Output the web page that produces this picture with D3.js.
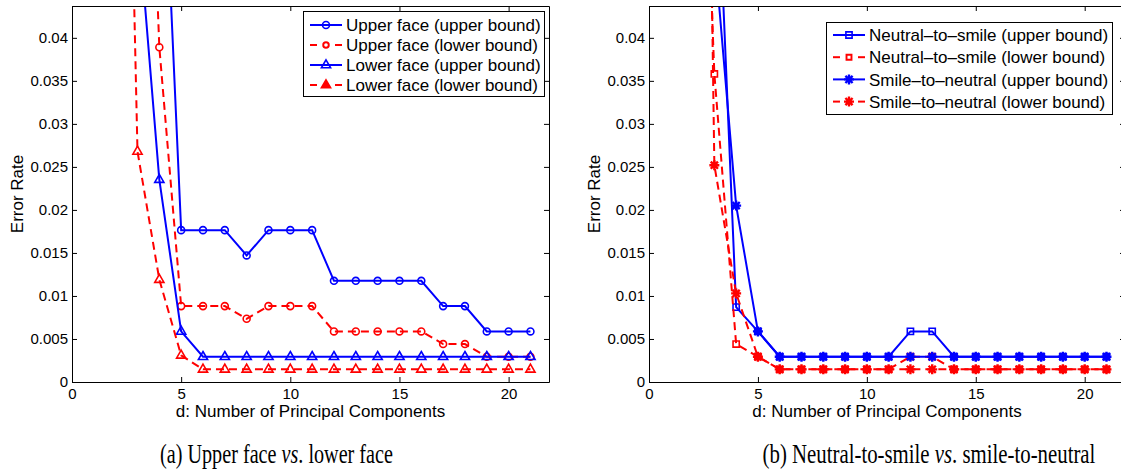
<!DOCTYPE html>
<html><head><meta charset="utf-8">
<script src="https://cdn.jsdelivr.net/npm/d3@7"></script>
<style>body{margin:0;background:#fff;} svg{display:block;}</style>
</head><body>
<svg id="c" width="1121" height="473"></svg>
<script>
// ---------- data ----------
const dims = d3.range(1, 22); // d = 1..21
const xTicks = [0, 5, 10, 15, 20];
const xTickLabels = ["0", "5", "10", "15", "20"];
const yTicks = [0, 0.005, 0.01, 0.015, 0.02, 0.025, 0.03, 0.035, 0.04];
const yTickLabels = ["0", "0.005", "0.01", "0.015", "0.02", "0.025", "0.03", "0.035", "0.04"];
const xMax = 21.85, yMax = 0.0437;

// panel (a)
const upperFaceUB = [null, null, null, 0.0745, 0.01765, 0.01765, 0.01765, 0.01471, 0.01765, 0.01765, 0.01765,
  0.01176, 0.01176, 0.01176, 0.01176, 0.01176, 0.00882, 0.00882, 0.00588, 0.00588, 0.00588];
const upperFaceLB = [null, null, 0.105, 0.0389, 0.00882, 0.00882, 0.00882, 0.00735, 0.00882, 0.00882, 0.00882,
  0.00588, 0.00588, 0.00588, 0.00588, 0.00588, 0.00441, 0.00441, 0.00294, 0.00294, 0.00294];
const lowerFaceUB = [null, null, 0.0544, 0.02353, 0.00588, 0.00294, 0.00294, 0.00294, 0.00294, 0.00294, 0.00294,
  0.00294, 0.00294, 0.00294, 0.00294, 0.00294, 0.00294, 0.00294, 0.00294, 0.00294, 0.00294];
const lowerFaceLB = [null, 0.14, 0.0268, 0.0119, 0.0031, 0.00147, 0.00147, 0.00147, 0.00147, 0.00147, 0.00147,
  0.00147, 0.00147, 0.00147, 0.00147, 0.00147, 0.00147, 0.00147, 0.00147, 0.00147, 0.00147];
// panel (b)
const n2sUB = [null, null, 0.0687, 0.0087, 0.00588, 0.00294, 0.00294, 0.00294, 0.00294, 0.00294, 0.00294,
  0.00588, 0.00588, 0.00294, 0.00294, 0.00294, 0.00294, 0.00294, 0.00294, 0.00294, 0.00294];
const n2sLB = [null, 0.102, 0.0358, 0.00441, 0.00294, 0.00147, 0.00147, 0.00147, 0.00147, 0.00147, 0.00147,
  0.00294, 0.00294, 0.00147, 0.00147, 0.00147, 0.00147, 0.00147, 0.00147, 0.00147, 0.00147];
const s2nUB = [null, null, 0.0503, 0.0205, 0.00588, 0.00294, 0.00294, 0.00294, 0.00294, 0.00294, 0.00294,
  0.00294, 0.00294, 0.00294, 0.00294, 0.00294, 0.00294, 0.00294, 0.00294, 0.00294, 0.00294];
const s2nLB = [null, 0.2, 0.0252, 0.0103, 0.00294, 0.00147, 0.00147, 0.00147, 0.00147, 0.00147, 0.00147,
  0.00147, 0.00147, 0.00147, 0.00147, 0.00147, 0.00147, 0.00147, 0.00147, 0.00147, 0.00147];

const namesA = ["Upper face (upper bound)", "Upper face (lower bound)", "Lower face (upper bound)", "Lower face (lower bound)"];
const namesB = ["Neutral\u2013to\u2013smile (upper bound)", "Neutral\u2013to\u2013smile (lower bound)",
  "Smile\u2013to\u2013neutral (upper bound)", "Smile\u2013to\u2013neutral (lower bound)"];
const captionA = ["(a) Upper face ", "vs", ". lower face"];
const captionB = ["(b) Neutral-to-smile ", "vs", ". smile-to-neutral"];
const xLabel = "d: Number of Principal Components";
const yLabel = "Error Rate";

// ---------- style ----------
const BLUE = "#0000ff", RED = "#ff0000";
const FONT = "'Liberation Sans', Arial, Helvetica, sans-serif";
const svg = d3.select("#c");

function markerPath(type) {
  if (type === "circle") return d3.symbol(d3.symbolCircle, 38)();
  if (type === "triangle") return "M0,-5.2L4.6,2.8L-4.6,2.8Z";
  if (type === "square") return "M-3.1,-3.1H3.1V3.1H-3.1Z";
  if (type === "star") { const r = 5, a = 3.6;
    return `M${-r},0H${r}M0,${-r}V${r}M${-a},${-a}L${a},${a}M${-a},${a}L${a},${-a}`; }
}

function panel(cfg) {
  const x = d3.scaleLinear().domain([0, xMax]).range([cfg.left, cfg.right]);
  const y = d3.scaleLinear().domain([0, yMax]).range([cfg.bottom, cfg.top]);
  const g = svg.append("g");
  const clipId = "clip" + cfg.id;
  g.append("clipPath").attr("id", clipId).append("rect")
    .attr("x", cfg.left).attr("y", cfg.top).attr("width", cfg.right - cfg.left).attr("height", cfg.bottom - cfg.top);
  const data = g.append("g").attr("clip-path", `url(#${clipId})`);

  cfg.series.forEach(s => {
    const pts = dims.map((d, i) => ({ d, v: s.values[i] }));
    const line = d3.line().defined(p => p.v != null).x(p => x(p.d)).y(p => y(p.v));
    data.append("path").attr("d", line(pts)).attr("fill", "none").attr("stroke", s.color)
      .attr("stroke-width", 2).attr("stroke-dasharray", s.dash ? "8,5" : null);
    data.selectAll(null).data(pts.filter(p => p.v != null)).enter().append("path")
      .attr("transform", p => `translate(${x(p.d)},${y(p.v)})`)
      .attr("d", markerPath(s.marker)).attr("fill", "none").attr("stroke", s.color)
      .attr("stroke-width", s.marker === "star" ? 2.4 : 1.6);
  });

  // axes
  const fmtX = (d, i) => xTickLabels[i], fmtY = (d, i) => yTickLabels[i];
  const ax = [
    g.append("g").attr("transform", `translate(0,${cfg.bottom})`)
      .call(d3.axisBottom(x).tickValues(xTicks).tickFormat(fmtX).tickSize(-5).tickSizeOuter(0).tickPadding(6.4)),
    g.append("g").attr("transform", `translate(${cfg.left},0)`)
      .call(d3.axisLeft(y).tickValues(yTicks).tickFormat(fmtY).tickSize(-5).tickSizeOuter(0).tickPadding(4)),
    g.append("g").attr("transform", `translate(0,${cfg.top})`)
      .call(d3.axisTop(x).tickValues(xTicks).tickFormat("").tickSize(-5).tickSizeOuter(0)),
    g.append("g").attr("transform", `translate(${cfg.right},0)`)
      .call(d3.axisRight(y).tickValues(yTicks).tickFormat("").tickSize(-5).tickSizeOuter(0))
  ];
  ax.forEach(a => {
    a.attr("font-family", FONT).attr("font-size", 15);
    a.selectAll("path,line").attr("stroke", "#000").attr("stroke-width", 1);
    a.selectAll("text").attr("fill", "#000");
  });

  // labels
  g.append("text").attr("x", (cfg.left + cfg.right) / 2).attr("y", 416.5).attr("text-anchor", "middle")
    .attr("font-family", FONT).attr("font-size", 17).text(xLabel);
  g.append("text").attr("transform", `translate(${cfg.ylabX},${(cfg.top + cfg.bottom) / 2}) rotate(-90)`)
    .attr("text-anchor", "middle").attr("font-family", FONT).attr("font-size", 17).text(yLabel);

  // legend
  const L = cfg.legend;
  const lg = g.append("g");
  lg.append("rect").attr("x", L.x0).attr("y", L.y0).attr("width", L.x1 - L.x0).attr("height", L.y1 - L.y0)
    .attr("fill", "#fff").attr("stroke", "#000").attr("stroke-width", 1);
  cfg.series.forEach((s, i) => {
    const yy = L.row0 + i * L.dy;
    const mx = (L.l0 + L.l1) / 2;
    if (s.dash) {
      lg.append("line").attr("x1", L.l0).attr("x2", L.l0 + 7).attr("y1", yy).attr("y2", yy).attr("stroke", s.color).attr("stroke-width", 2);
      lg.append("line").attr("x1", L.l1 - 7).attr("x2", L.l1).attr("y1", yy).attr("y2", yy).attr("stroke", s.color).attr("stroke-width", 2);
    } else {
      lg.append("line").attr("x1", L.l0).attr("x2", L.l1).attr("y1", yy).attr("y2", yy).attr("stroke", s.color).attr("stroke-width", 2);
    }
    const small = s.dash && (s.marker === "square" || s.marker === "circle");
    lg.append("path").attr("transform", `translate(${mx},${yy}) scale(${small ? 0.8 : 1})`).attr("d", markerPath(s.marker))
      .attr("fill", s.dash && s.marker === "triangle" ? s.color : "none").attr("stroke", s.color)
      .attr("stroke-width", s.marker === "star" ? 2.4 : (small ? 2.4 : 1.6));
    lg.append("text").attr("x", L.tx).attr("y", yy).attr("dy", "0.36em").attr("font-family", FONT)
      .attr("font-size", 17).text(s.name);
  });

  // caption (condensed serif)
  const cap = g.append("text").attr("transform", `translate(${cfg.capX},463)`).attr("text-anchor", "middle")
    .attr("font-family", "'Liberation Serif', 'DejaVu Serif', serif").attr("font-size", 28);
  cfg.caption.forEach((t, i) => cap.append("tspan").attr("font-style", i === 1 ? "italic" : null).text(t));
  const w = cap.node().getComputedTextLength();
  cap.attr("transform", `translate(${cfg.capX},463) scale(${cfg.capW / w},1)`);
}

panel({
  id: "a", left: 72, right: 549, top: 6, bottom: 382, ylabX: 23,
  series: [
    { name: namesA[0], values: upperFaceUB, color: BLUE, dash: false, marker: "circle" },
    { name: namesA[1], values: upperFaceLB, color: RED, dash: true, marker: "circle" },
    { name: namesA[2], values: lowerFaceUB, color: BLUE, dash: false, marker: "triangle" },
    { name: namesA[3], values: lowerFaceLB, color: RED, dash: true, marker: "triangle" }
  ],
  legend: { x0: 303.5, x1: 544.5, y0: 11.5, y1: 96.5, row0: 25, dy: 20, l0: 310, l1: 342, tx: 346 },
  caption: captionA, capX: 276.5, capW: 233
});
panel({
  id: "b", left: 649, right: 1125, top: 6, bottom: 382, ylabX: 600,
  series: [
    { name: namesB[0], values: n2sUB, color: BLUE, dash: false, marker: "square" },
    { name: namesB[1], values: n2sLB, color: RED, dash: true, marker: "square" },
    { name: namesB[2], values: s2nUB, color: BLUE, dash: false, marker: "star" },
    { name: namesB[3], values: s2nLB, color: RED, dash: true, marker: "star" }
  ],
  legend: { x0: 826.5, x1: 1112.5, y0: 22.5, y1: 114.5, row0: 35, dy: 22.2, l0: 833, l1: 865, tx: 869 },
  caption: captionB, capX: 929, capW: 333
});
</script>
</body></html>
